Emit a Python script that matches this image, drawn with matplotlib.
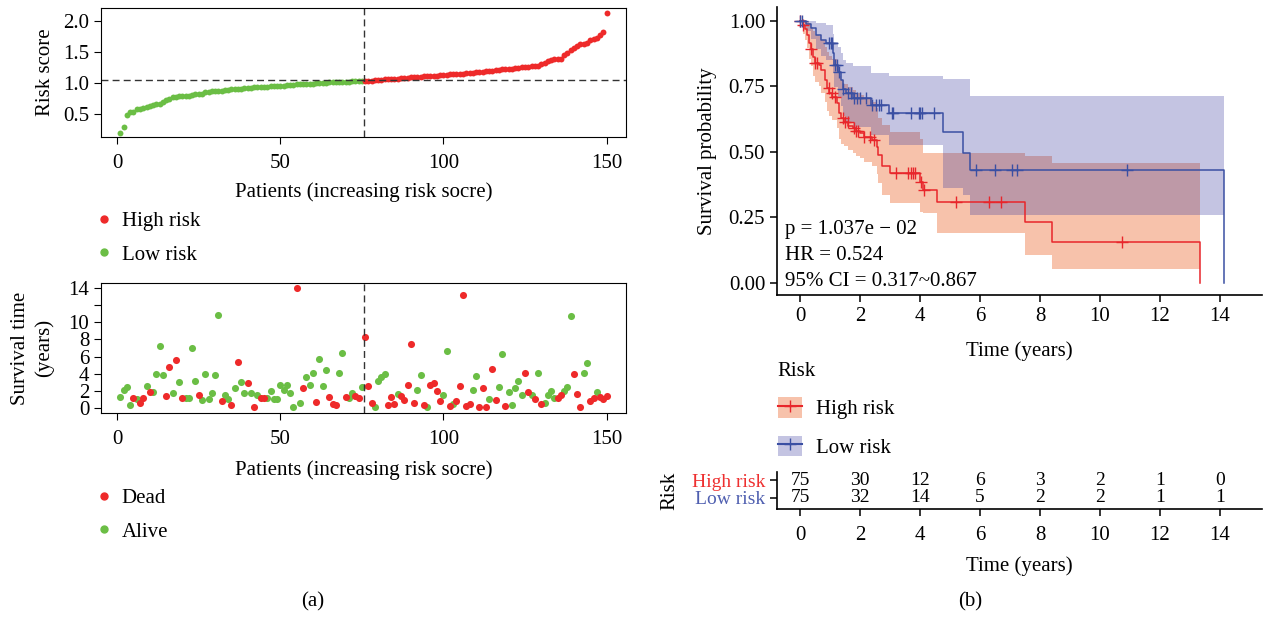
"""
Risk score plot (a) and Kaplan-Meier curves with risk table (b).
"""

import numpy as np
import matplotlib
matplotlib.use("Agg")
import matplotlib.pyplot as plt
from matplotlib.lines import Line2D
from matplotlib.patches import Patch

plt.rcParams['font.family'] = ['Liberation Serif', 'DejaVu Serif']
plt.rcParams['font.size'] = 15

# === DATA ===
risk_score = [
    0.20, 0.30, 0.49, 0.54, 0.54, 0.58, 0.59, 0.60, 0.62, 0.63,
    0.65, 0.66, 0.67, 0.69, 0.72, 0.74, 0.77, 0.78, 0.79, 0.79,
    0.80, 0.80, 0.81, 0.82, 0.82, 0.83, 0.85, 0.86, 0.87, 0.87,
    0.88, 0.88, 0.89, 0.89, 0.90, 0.90, 0.91, 0.91, 0.92, 0.92,
    0.92, 0.93, 0.93, 0.93, 0.94, 0.94, 0.95, 0.95, 0.96, 0.96,
    0.96, 0.97, 0.97, 0.97, 0.98, 0.98, 0.98, 0.99, 0.99, 0.99,
    1.00, 1.00, 1.00, 1.00, 1.01, 1.01, 1.01, 1.02, 1.02, 1.02,
    1.02, 1.03, 1.03, 1.03, 1.04,
    1.04, 1.04, 1.04, 1.05, 1.05, 1.05, 1.06, 1.06, 1.06, 1.07,
    1.07, 1.08, 1.08, 1.08, 1.09, 1.09, 1.10, 1.10, 1.11, 1.11,
    1.12, 1.12, 1.12, 1.13, 1.13, 1.13, 1.14, 1.14, 1.14, 1.15,
    1.15, 1.16, 1.16, 1.16, 1.17, 1.17, 1.18, 1.19, 1.20, 1.20,
    1.21, 1.21, 1.22, 1.22, 1.23, 1.23, 1.24, 1.24, 1.25, 1.26,
    1.26, 1.27, 1.27, 1.28, 1.30, 1.32, 1.35, 1.37, 1.38, 1.38,
    1.38, 1.45, 1.48, 1.53, 1.57, 1.60, 1.62, 1.63, 1.64, 1.69,
    1.71, 1.73, 1.77, 1.82, 2.12,
]
risk_cutoff = 1.042
n_low = 75  # patients below the median cut-off

surv_time = [
    1.25, 2.10, 2.40, 0.35, 1.10, 1.00, 0.55, 1.20, 2.60, 1.85,
    1.90, 4.00, 7.20, 3.90, 1.40, 4.75, 1.75, 5.60, 3.05, 1.10,
    1.10, 1.10, 7.00, 3.15, 1.50, 0.95, 4.00, 1.05, 1.75, 3.90,
    10.90, 0.85, 1.50, 1.05, 0.35, 2.30, 5.40, 3.05, 1.70, 2.95,
    1.75, 0.10, 1.50, 1.10, 1.10, 1.10, 1.95, 1.00, 1.00, 2.70,
    2.10, 2.70, 1.70, 0.05, 14.00, 0.60, 2.30, 3.65, 2.65, 4.05,
    0.65, 5.75, 2.55, 4.45, 1.30, 0.50, 0.35, 4.05, 6.45, 1.30,
    1.20, 1.70, 1.35, 1.15, 2.45, 8.30, 2.55, 0.60, 0.15, 3.20,
    3.60, 4.00, 0.30, 1.25, 0.45, 1.65, 1.35, 0.95, 2.70, 7.50,
    0.55, 2.10, 3.85, 0.35, 0.05, 2.70, 2.95, 2.00, 0.80, 1.50,
    6.65, 0.25, 0.50, 0.80, 2.55, 13.25, 0.20, 0.45, 2.10, 3.70,
    0.15, 2.35, 0.15, 1.00, 4.55, 0.95, 2.45, 6.25, 0.25, 1.90,
    0.30, 2.30, 3.20, 1.55, 4.10, 1.90, 1.50, 1.00, 4.10, 0.45,
    0.55, 1.55, 1.95, 1.15, 1.10, 1.50, 2.00, 2.45, 10.70, 3.95,
    1.65, 0.10, 4.10, 5.20, 0.85, 1.20, 1.80, 1.30, 1.00, 1.40,
]
# 1 = dead, 0 = alive
status = [
    0, 0, 0, 0, 1, 0, 1, 1, 0, 1, 0, 0, 0, 0, 1, 1, 0, 1, 0, 1,
    0, 0, 0, 0, 1, 0, 0, 0, 0, 0, 0, 1, 0, 0, 1, 0, 1, 0, 0, 1,
    0, 1, 0, 1, 1, 0, 0, 0, 0, 0, 0, 0, 0, 0, 1, 0, 1, 0, 0, 0,
    1, 0, 0, 0, 1, 1, 1, 0, 0, 1, 0, 0, 1, 1, 0, 1, 1, 1, 0, 0,
    0, 0, 1, 1, 1, 0, 1, 1, 1, 1, 1, 0, 0, 1, 0, 1, 1, 1, 1, 0,
    0, 1, 0, 1, 1, 1, 1, 1, 0, 0, 1, 1, 1, 0, 1, 1, 0, 0, 1, 0,
    0, 0, 0, 0, 1, 1, 0, 1, 0, 1, 0, 0, 0, 0, 1, 1, 0, 0, 0, 1,
    1, 1, 0, 0, 1, 1, 0, 1, 1, 1,
]

# Kaplan-Meier steps (time where each level starts)
high_t = [0, 0.09, 0.16, 0.22, 0.29, 0.36, 0.42, 0.49, 0.62, 0.69, 0.82, 0.89,
          0.98, 1.08, 1.22, 1.31, 1.35, 1.48, 1.61, 1.75, 1.88, 2.01, 2.14, 2.41,
          2.57, 2.61, 2.74, 3.00, 3.99, 4.10, 4.55, 7.50, 8.40, 13.32]
high_s = [1.0, 0.983, 0.967, 0.945, 0.913, 0.89, 0.863, 0.84, 0.83, 0.81, 0.774, 0.742,
          0.723, 0.71, 0.684, 0.646, 0.627, 0.614, 0.598, 0.589, 0.579, 0.57, 0.557, 0.545,
          0.519, 0.487, 0.445, 0.42, 0.386, 0.354, 0.309, 0.232, 0.154, 0.0]
high_lo = [1.0, 0.95, 0.925, 0.895, 0.855, 0.825, 0.79, 0.765, 0.75, 0.725, 0.69, 0.655,
           0.635, 0.62, 0.59, 0.55, 0.53, 0.52, 0.505, 0.495, 0.485, 0.475, 0.46, 0.445,
           0.415, 0.38, 0.335, 0.305, 0.27, 0.265, 0.19, 0.107, 0.051, 0.051]
high_hi = [1.0, 1.0, 1.0, 1.0, 0.99, 0.975, 0.96, 0.945, 0.94, 0.925, 0.9, 0.88,
           0.865, 0.855, 0.83, 0.79, 0.775, 0.76, 0.745, 0.735, 0.725, 0.715, 0.705, 0.69,
           0.665, 0.63, 0.60, 0.576, 0.55, 0.494, 0.494, 0.484, 0.458, 0.458]
high_cens = [0.0, 0.09, 0.36, 0.49, 0.56, 0.95, 1.06, 1.15, 1.42, 1.50, 1.59, 1.81,
             1.88, 1.94, 2.14, 2.34, 2.47, 3.20, 3.60, 3.69, 3.77, 3.82, 4.03, 4.12,
             5.19, 6.31, 6.70, 10.74]

low_t = [0, 0.2, 0.37, 0.53, 0.7, 0.87, 1.09, 1.14, 1.26, 1.37, 1.42, 1.53, 1.76,
         2.37, 2.98, 4.76, 5.42, 5.65, 14.12]
low_s = [1.0, 0.987, 0.971, 0.945, 0.926, 0.914, 0.876, 0.831, 0.805, 0.774, 0.738,
         0.723, 0.704, 0.678, 0.646, 0.576, 0.496, 0.43, 0.0]
low_lo = [1.0, 0.96, 0.93, 0.89, 0.865, 0.85, 0.80, 0.745, 0.71, 0.675, 0.635,
          0.615, 0.595, 0.565, 0.525, 0.36, 0.335, 0.257, 0.257]
low_hi = [1.0, 1.0, 1.0, 0.99, 0.99, 0.985, 0.95, 0.92, 0.90, 0.875, 0.85,
          0.84, 0.825, 0.80, 0.79, 0.777, 0.777, 0.713, 0.713]
low_cens = [0.0, 0.08, 0.98, 1.02, 1.08, 1.16, 1.22, 1.31, 1.42, 1.61, 1.71, 1.81,
            1.90, 2.01, 2.21, 2.41, 2.54, 2.63, 2.71, 3.07, 3.11, 3.70, 3.96, 4.01,
            4.06, 4.46, 5.85, 6.51, 7.06, 7.24, 10.91]

table_times = [0, 2, 4, 6, 8, 10, 12, 14]
high_at_risk = [75, 30, 12, 6, 3, 2, 1, 0]
low_at_risk = [75, 32, 14, 5, 2, 2, 1, 1]

stats_text = "p = 1.037e \u2212 02\nHR = 0.524\n95% CI = 0.317~0.867"

# === STYLE ===
W, H = 1271, 618
RED_PT = '#EE2A2A'
GREEN_PT = '#6BBE45'
RED_LINE = '#E8262B'
BLUE_LINE = '#3A4FA3'
RED_FILL = '#F08050'
BLUE_FILL = '#3C3CA0'
DASH = (0, (5, 3))
TABLE_FS = 14


def px_axes(fig, left, top, right, bottom):
    return fig.add_axes([left / W, 1 - bottom / H, (right - left) / W, (bottom - top) / H])


def dot_legend(fig, labels, top):
    handles = [Line2D([], [], ls='', marker='o', ms=5, color=RED_PT),
               Line2D([], [], ls='', marker='o', ms=5, color=GREEN_PT)]
    fig.legend(handles=handles, labels=labels, loc='upper left',
               bbox_to_anchor=(77 / W, 1 - top / H), frameon=False,
               handlelength=0.8, handletextpad=0.45, labelspacing=0.66)


fig = plt.figure(figsize=(W / 100, H / 100), dpi=100)

patients = np.arange(1, len(risk_score) + 1)
rs = np.array(risk_score)
high = patients > n_low
st = np.array(status)
tm = np.array(surv_time)
split_x = n_low + 0.5

# --- (a) top: risk score ---
ax1 = px_axes(fig, 101, 8, 626, 137)
ax1.scatter(patients[~high], rs[~high], s=18, color=GREEN_PT, lw=0)
ax1.scatter(patients[high], rs[high], s=18, color=RED_PT, lw=0)
ax1.axhline(risk_cutoff, color='#333333', ls=DASH, lw=1)
ax1.axvline(split_x, color='#333333', ls=DASH, lw=1)
ax1.set_xlim(-4.96, 155.96)
ax1.set_ylim(0.134, 2.205)
ax1.set_xticks([0, 50, 100, 150])
ax1.set_yticks([0.5, 1.0, 1.5, 2.0])
ax1.set_yticklabels(['0.5', '1.0', '1.5', '2.0'])
ax1.set_ylabel('Risk score', labelpad=6)
ax1.set_xlabel('Patients (increasing risk socre)', labelpad=7)
ax1.tick_params(length=5)
ax1.tick_params(axis='x', pad=7)

dot_legend(fig, ['High risk', 'Low risk'], 193)

# --- (a) bottom: survival time ---
ax2 = px_axes(fig, 101, 283, 626, 413)
ax2.scatter(patients[st == 0], tm[st == 0], s=26, color=GREEN_PT, lw=0)
ax2.scatter(patients[st == 1], tm[st == 1], s=26, color=RED_PT, lw=0)
ax2.axvline(split_x, color='#333333', ls=DASH, lw=1)
ax2.set_xlim(-4.96, 155.96)
ax2.set_ylim(-0.6, 14.6)
ax2.set_xticks([0, 50, 100, 150])
ax2.set_yticks([0, 2, 4, 6, 8, 10, 12, 14])
ax2.set_yticklabels(['0', '2', '4', '6', '8', '10', '', '14'])
ax2.set_ylabel('Survival time\n(years)', linespacing=1.3, labelpad=10)
ax2.set_xlabel('Patients (increasing risk socre)', labelpad=8)
ax2.tick_params(length=5)
ax2.tick_params(axis='x', pad=7)

dot_legend(fig, ['Dead', 'Alive'], 470)

fig.text(313 / W, 1 - 602 / H, '(a)', ha='center', va='center')

# --- (b) Kaplan-Meier ---
ax3 = px_axes(fig, 777, 7, 1262, 295)


def step_at(t_steps, s_steps, t):
    idx = np.searchsorted(t_steps, t, side='right') - 1
    return np.array(s_steps)[idx]


ax3.fill_between(high_t, high_lo, high_hi, step='post', color=RED_FILL, alpha=0.48, lw=0)
ax3.fill_between(low_t, low_lo, low_hi, step='post', color=BLUE_FILL, alpha=0.3, lw=0)
ax3.step(high_t, high_s, where='post', color=RED_LINE, lw=1.1)
ax3.step(low_t, low_s, where='post', color=BLUE_LINE, lw=1.1)
ax3.plot(high_cens, step_at(high_t, high_s, high_cens), ls='', marker='+',
         ms=9, mew=1, color=RED_LINE)
ax3.plot(low_cens, step_at(low_t, low_s, low_cens), ls='', marker='+',
         ms=9, mew=1, color=BLUE_LINE)
ax3.text(-0.5, -0.03, stats_text, ha='left', va='bottom', linespacing=1.5)
ax3.set_xlim(-0.77, 15.4)
ax3.set_ylim(-0.047, 1.052)
ax3.set_xticks(table_times)
ax3.set_yticks([0, 0.25, 0.5, 0.75, 1.0])
ax3.set_yticklabels(['0.00', '0.25', '0.50', '0.75', '1.00'])
ax3.set_xlabel('Time (years)', labelpad=11)
ax3.set_ylabel('Survival probability', labelpad=8)
for side in ['top', 'right']:
    ax3.spines[side].set_visible(False)
ax3.spines['left'].set_linewidth(1.2)
ax3.spines['bottom'].set_linewidth(1.2)
ax3.tick_params(length=5, width=1.1)

km_handles = [
    (Patch(color=RED_FILL, alpha=0.48, lw=0), Line2D([], [], color=RED_LINE, marker='+', ms=9, lw=1.5)),
    (Patch(color=BLUE_FILL, alpha=0.3, lw=0), Line2D([], [], color=BLUE_LINE, marker='+', ms=9, lw=1.5)),
]
fig.legend(handles=km_handles, labels=['High risk', 'Low risk'], title='Risk',
           loc='upper left', bbox_to_anchor=(759 / W, 1 - 343 / H), frameon=False,
           handlelength=1.15, handleheight=1.15, handletextpad=0.67, labelspacing=0.78,
           alignment='left', title_fontsize=15)

# --- (b) risk table ---
ax4 = px_axes(fig, 777, 472, 1262, 509)
for x, a, b in zip(table_times, high_at_risk, low_at_risk):
    ax4.text(x, 2.03, str(a), ha='center', va='center', fontsize=TABLE_FS)
    ax4.text(x, 1.0, str(b), ha='center', va='center', fontsize=TABLE_FS)
ax4.set_xlim(-0.77, 15.4)
ax4.set_ylim(0.35, 2.53)
ax4.set_xticks(table_times)
ax4.set_yticks([1.0, 2.03])
ax4.set_yticklabels(['Low risk', 'High risk'], fontsize=TABLE_FS)
ax4.get_yticklabels()[0].set_color('#4F5FB0')
ax4.get_yticklabels()[1].set_color('#EE3030')
ax4.set_ylabel('Risk', labelpad=9)
ax4.set_xlabel('Time (years)', labelpad=8)
for side in ['top', 'right']:
    ax4.spines[side].set_visible(False)
ax4.spines['left'].set_linewidth(1.2)
ax4.spines['bottom'].set_linewidth(1.2)
ax4.tick_params(length=5, width=1.1)
ax4.tick_params(axis='x', pad=7)

fig.text(970 / W, 1 - 602 / H, '(b)', ha='center', va='center')

plt.savefig('out.png', dpi=100)
plt.close()
